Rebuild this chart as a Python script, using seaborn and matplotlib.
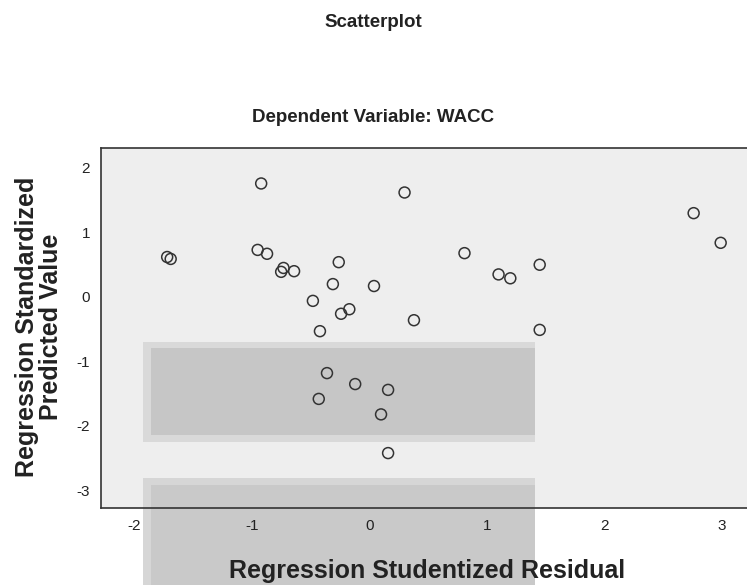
import matplotlib
matplotlib.use("Agg")
import matplotlib.pyplot as plt
from matplotlib.patches import Rectangle
import seaborn as sns
import pandas as pd

# --- data (SPSS residual plot) ---
studentized_residual = [-0.92, 0.30, -1.72, -1.69, -0.95, -0.87, -0.73, -0.75, -0.64, -0.26,
                        -0.31, 0.04, -0.48, -0.17, -0.24, -0.42, 0.38, 2.76, 2.99, 0.81,
                        1.10, 1.20, 1.45, 1.45, -0.36, -0.12, 0.16, -0.43, 0.10, 0.16]
standardized_predicted = [1.76, 1.62, 0.62, 0.59, 0.73, 0.67, 0.45, 0.39, 0.40, 0.54,
                          0.20, 0.17, -0.06, -0.19, -0.26, -0.53, -0.36, 1.30, 0.84, 0.68,
                          0.35, 0.29, 0.50, -0.51, -1.18, -1.35, -1.44, -1.58, -1.82, -2.42]
x_ticks = [-2, -1, 0, 1, 2, 3]
y_ticks = [-3, -2, -1, 0, 1, 2]

df = pd.DataFrame({"resid": studentized_residual, "pred": standardized_predicted})

sns.set_style("white")
plt.rcParams["font.family"] = ["Liberation Sans", "DejaVu Sans"]
plt.rcParams["axes.unicode_minus"] = False

fig = plt.figure(figsize=(7.47, 5.85), dpi=100)
fig.patch.set_facecolor("white")

ax_box = [101 / 747, 1 - 508.3 / 585, 1 - 101 / 747, (508.3 - 148) / 585]

# light grey plot area, then the faint grey blocks of the watermark on top of it
fig.patches.append(Rectangle((ax_box[0], ax_box[1]), ax_box[2], ax_box[3],
                             transform=fig.transFigure, facecolor="#eeeeee", edgecolor="none", zorder=0))
for (x0, y0, w, h, c) in [(143, 342, 392, 100, "#d9d9d9"), (151, 348, 384, 87, "#c6c6c6"),
                          (143, 478, 392, 107, "#d6d6d6"), (151, 485, 384, 100, "#c9c9c9")]:
    fig.patches.append(Rectangle((x0 / 747, 1 - (y0 + h) / 585), w / 747, h / 585,
                                 transform=fig.transFigure, facecolor=c, edgecolor="none", zorder=1))

ax = fig.add_axes(ax_box)
ax.set_facecolor("none")
ax.set_zorder(2)

sns.scatterplot(data=df, x="resid", y="pred", ax=ax, marker="o", s=62,
                facecolor="none", edgecolor="#333333", linewidth=1.1, zorder=3)

ax.set_xlim(-2.283, 3.214)
ax.set_ylim(-3.276, 2.310)
ax.set_xticks(x_ticks)
ax.set_yticks(y_ticks)
ax.set_xlabel("")
ax.set_ylabel("")
ax.tick_params(direction="out", length=6, width=1, colors="#333333", labelsize=11,
               labelcolor="#222222", pad=2)
for side in ["left", "bottom", "top"]:
    ax.spines[side].set_color("#333333")
    ax.spines[side].set_linewidth(1.2)
ax.spines["right"].set_visible(False)

# titles and axis labels
fig.text(0.4993, 0.961, "Scatterplot", ha="center", va="center",
         fontsize=13.5, fontweight="bold", color="#222222")
fig.text(0.4993, 0.800, "Dependent Variable: WACC", ha="center", va="center",
         fontsize=13.5, fontweight="bold", color="#222222")
fig.text(427 / 747, 1 - 571 / 585, "Regression Studentized Residual", ha="center", va="center",
         fontsize=18, fontweight="bold", color="#222222")
fig.text(39.5 / 747, 1 - 327 / 585, "Regression Standardized\nPredicted Value", ha="center",
         va="center", rotation=90, fontsize=18, fontweight="bold", color="#222222",
         linespacing=1.0, multialignment="center")

plt.savefig("out.png", dpi=100)
plt.close()
